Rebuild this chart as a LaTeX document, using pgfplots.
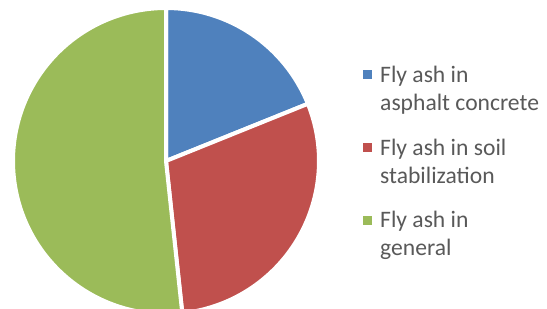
\documentclass[border=0pt]{standalone}
\usepackage{pgfplots}
\pgfplotsset{compat=1.18}
\usepackage{pgfplotstable}
\usepackage{fontspec}
\setmainfont{Carlito}
\definecolor{pieblue}{HTML}{4F81BD}
\definecolor{piered}{HTML}{C0504D}
\definecolor{piegreen}{HTML}{9BBB59}
\definecolor{legtext}{HTML}{595959}
\pgfplotstableread{
idx value
0 18.9
1 29.4
2 51.7
}\piedata
\begin{document}
\begin{tikzpicture}
\pgfplotstablegetelem{0}{value}\of\piedata \let\va\pgfplotsretval
\pgfplotstablegetelem{1}{value}\of\piedata \let\vb\pgfplotsretval
\pgfplotstablegetelem{2}{value}\of\piedata \let\vc\pgfplotsretval
\pgfmathsetmacro{\tot}{\va+\vb+\vc}
\pgfmathsetmacro{\aA}{90}
\pgfmathsetmacro{\aB}{\aA-(\va/\tot)*360}
\pgfmathsetmacro{\aC}{\aB-(\vb/\tot)*360}
\pgfmathsetmacro{\aD}{\aC-(\vc/\tot)*360}
\begin{axis}[
  at={(0,0)}, anchor=south west,
  x=1bp, y=1bp, scale only axis,
  xmin=0, xmax=547, ymin=0, ymax=309,
  hide axis, clip=false,
]
\fill[pieblue, draw=white, line width=4bp, line join=round]
  (axis cs:166,148) -- +(\aA:153bp) arc[start angle=\aA, end angle=\aB, radius=153bp] -- cycle;
\fill[piered, draw=white, line width=4bp, line join=round]
  (axis cs:166,148) -- +(\aB:153bp) arc[start angle=\aB, end angle=\aC, radius=153bp] -- cycle;
\fill[piegreen, draw=white, line width=4bp, line join=round]
  (axis cs:166,148) -- +(\aC:153bp) arc[start angle=\aC, end angle=\aD, radius=153bp] -- cycle;
% legend
\fill[pieblue] (axis cs:363,230.5) rectangle (axis cs:372,239.5);
\fill[piered] (axis cs:363,157.5) rectangle (axis cs:372,166.5);
\fill[piegreen] (axis cs:363,84.5) rectangle (axis cs:372,93.5);
\begin{scope}[every node/.style={anchor=base west, inner sep=0pt, text=legtext, font=\fontsize{23.6bp}{28bp}\selectfont}]
\node at (axis cs:380,227) {Fly ash in};
\node at (axis cs:380,199) {asphalt concrete};
\node at (axis cs:380,154) {Fly ash in soil};
\node at (axis cs:380,126) {stabilization};
\node at (axis cs:380,82) {Fly ash in};
\node at (axis cs:380,54) {general};
\end{scope}
\end{axis}
\pgfresetboundingbox
\path (0,0) rectangle (547bp,309bp);
\end{tikzpicture}
\end{document}
